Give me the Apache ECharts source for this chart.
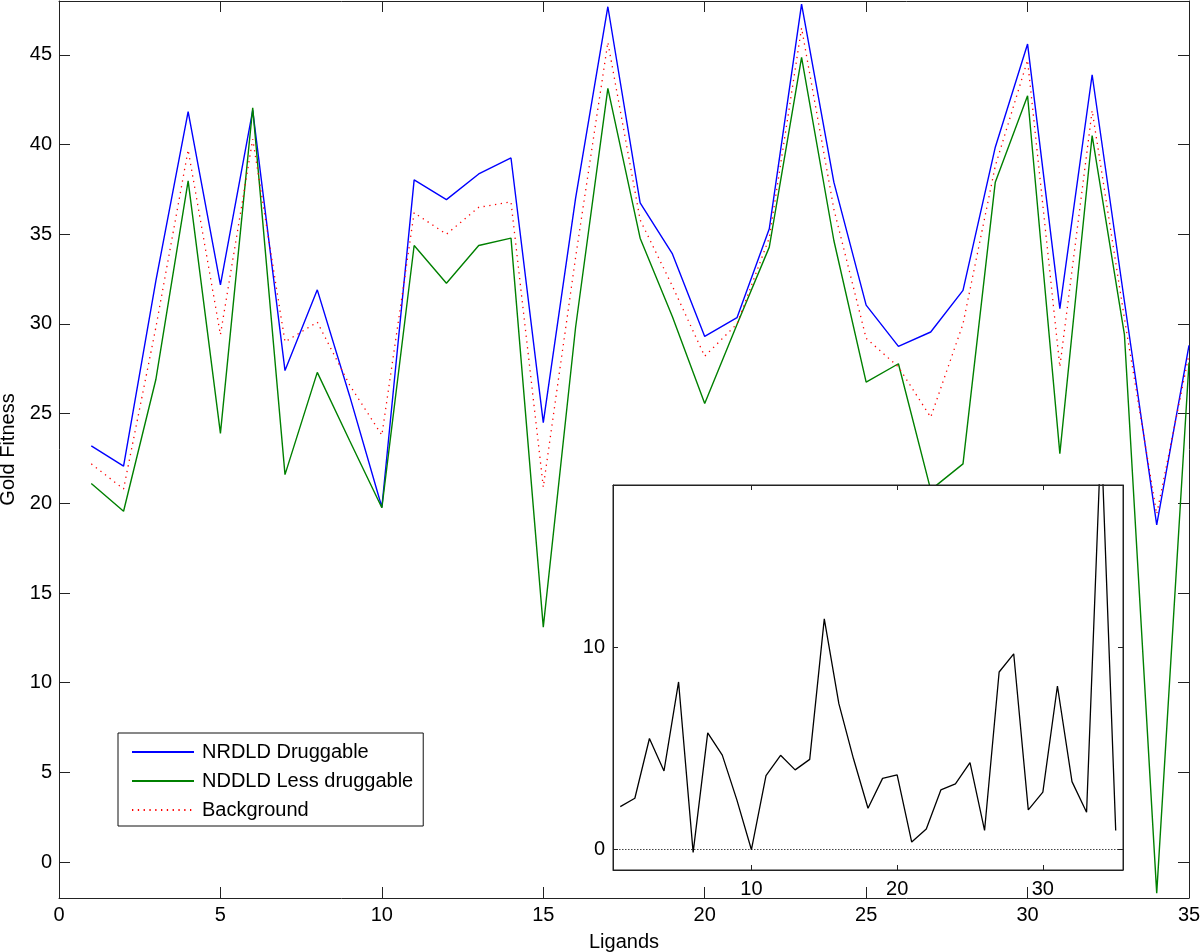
<!DOCTYPE html>
<html><head><meta charset="utf-8">
<script src="https://cdn.jsdelivr.net/npm/echarts@6/dist/echarts.min.js"></script>
<style>html,body{margin:0;padding:0;background:#fff}#c{width:1200px;height:952px}</style>
</head><body><div id="c"></div><script>
const ligands = [1,2,3,4,5,6,7,8,9,10,11,12,13,14,15,16,17,18,19,20,21,22,23,24,25,26,27,28,29,30,31,32,33,34,35];
const druggable = [23.2,22.07,32.4,41.83,32.18,41.9,27.4,31.9,26.0,19.78,38.03,36.93,38.36,39.25,24.5,37.0,47.68,36.75,33.9,29.3,30.35,35.3,47.83,37.9,31.05,28.75,29.55,31.87,39.85,45.6,30.85,43.89,31.25,18.8,28.8];
const lessDruggable = [21.1,19.56,26.9,37.97,23.9,42.04,21.6,27.3,23.5,19.75,34.37,32.27,34.37,34.78,13.1,29.8,43.13,34.78,30.4,25.56,29.97,34.28,44.86,34.65,26.76,27.78,20.75,22.2,37.9,42.72,22.77,40.5,29.4,-1.73,27.85];
const background = [22.2,20.8,29.8,39.7,29.4,40.3,29.0,30.1,26.6,23.8,36.2,35.0,36.5,36.8,20.9,33.7,45.7,35.8,32.1,28.2,30.0,34.8,46.5,36.4,29.2,27.6,24.8,30.0,38.8,44.7,27.6,41.9,30.3,19.4,28.3];
const difference = [2.13,2.54,5.49,3.89,8.28,-0.13,5.77,4.67,2.46,0.0,3.66,4.66,3.94,4.46,11.39,7.21,4.5,2.05,3.52,3.69,0.38,1.02,2.95,3.25,4.3,0.95,8.77,9.67,1.97,2.84,8.08,3.36,1.85,20.5,0.95];
const mainYTicks = [0,5,10,15,20,25,30,35,40,45];
const insetXTicks = [10,20,30];
const insetYTicks = [0,10];
const seriesNames = ['NRDLD Druggable','NDDLD Less druggable','Background'];

const FONT = 'Liberation Sans, Arial, Helvetica, sans-serif';
const pairs = arr => ligands.map((x,i)=>[x, arr[i]]);
const axisLine = {show:true, onZero:false, lineStyle:{color:'#222', width:1}};
const lbl = {color:'#000', fontSize:20, fontFamily:FONT};

const chart = echarts.init(document.getElementById('c'), null, {renderer:'canvas'});
chart.setOption({
  animation:false,
  backgroundColor:'#fff',
  textStyle:{fontFamily:FONT},
  grid:[
    {left:59, top:1, width:1130, height:897, show:false, containLabel:false, outerBoundsMode:'none'},
    {left:613, top:485, width:510, height:385, show:true, backgroundColor:'#fff', borderColor:'#222', borderWidth:1, z:5, containLabel:false, outerBoundsMode:'none'}
  ],
  legend:{
    orient:'vertical', left:118, top:733,
    data:seriesNames,
    backgroundColor:'#fff', borderColor:'#111', borderWidth:1,
    padding:[9,10,6,13], itemGap:9, itemWidth:62, itemHeight:19,
    itemStyle:{opacity:0},
    textStyle:{fontSize:20, color:'#000', fontFamily:FONT, padding:[0,0,0,3]},
    z:8
  },
  xAxis:[
    {gridIndex:0, type:'value', min:0, max:35, interval:5, position:'bottom',
     axisLine, axisTick:{inside:true, length:11, lineStyle:{color:'#222'}},
     axisLabel:{...lbl, margin:7}, splitLine:{show:false},
     name:'Ligands', nameLocation:'middle', nameGap:34, nameTextStyle:{...lbl}},
    {gridIndex:0, type:'value', min:0, max:35, interval:5, position:'top',
     axisLine, axisTick:{inside:true, length:11, lineStyle:{color:'#222'}},
     axisLabel:{show:false}, splitLine:{show:false}},
    {gridIndex:1, type:'value', min:0.5, max:35.5, position:'bottom', z:7,
     axisLine, axisTick:{inside:true, length:5, customValues:insetXTicks, lineStyle:{color:'#222'}},
     axisLabel:{...lbl, margin:9, customValues:insetXTicks}, splitLine:{show:false}},
    {gridIndex:1, type:'value', min:0.5, max:35.5, position:'top', z:7,
     axisLine, axisTick:{inside:true, length:5, customValues:insetXTicks, lineStyle:{color:'#222'}},
     axisLabel:{show:false, customValues:insetXTicks}, splitLine:{show:false}}
  ],
  yAxis:[
    {gridIndex:0, type:'value', min:-2, max:48, position:'left',
     axisLine, axisTick:{inside:true, length:11, customValues:mainYTicks, lineStyle:{color:'#222'}},
     axisLabel:{...lbl, margin:7, customValues:mainYTicks}, splitLine:{show:false},
     name:'Gold Fitness', nameLocation:'middle', nameGap:38, nameTextStyle:{...lbl}},
    {gridIndex:0, type:'value', min:-2, max:48, position:'right',
     axisLine, axisTick:{inside:true, length:11, customValues:mainYTicks, lineStyle:{color:'#222'}},
     axisLabel:{show:false, customValues:mainYTicks}, splitLine:{show:false}},
    {gridIndex:1, type:'value', min:-1, max:18, position:'left', z:7,
     axisLine, axisTick:{inside:true, length:5, customValues:insetYTicks, lineStyle:{color:'#222'}},
     axisLabel:{...lbl, margin:8, customValues:insetYTicks}, splitLine:{show:false}},
    {gridIndex:1, type:'value', min:-1, max:18, position:'right', z:7,
     axisLine, axisTick:{inside:true, length:5, customValues:insetYTicks, lineStyle:{color:'#222'}},
     axisLabel:{show:false, customValues:insetYTicks}, splitLine:{show:false}}
  ],
  series:[
    {name:seriesNames[0], type:'line', xAxisIndex:0, yAxisIndex:0, data:pairs(druggable),
     symbol:'none', lineStyle:{color:'#0000ff', width:1.4}, itemStyle:{color:'#0000ff'}, z:2},
    {name:seriesNames[1], type:'line', xAxisIndex:0, yAxisIndex:0, data:pairs(lessDruggable),
     symbol:'none', lineStyle:{color:'#008000', width:1.4}, itemStyle:{color:'#008000'}, z:2},
    {name:seriesNames[2], type:'line', xAxisIndex:0, yAxisIndex:0, data:pairs(background),
     symbol:'none', lineStyle:{color:'#ff0000', width:1.3, type:[1.3,4.5]}, itemStyle:{color:'#ff0000'}, z:2},
    {name:'Difference', type:'line', xAxisIndex:2, yAxisIndex:2, data:pairs(difference),
     symbol:'none', lineStyle:{color:'#000', width:1.3}, itemStyle:{color:'#000'}, z:6, clip:true,
     markLine:{silent:true, symbol:'none', label:{show:false},
       lineStyle:{color:'#444', width:1, type:[1.5,1.5]}, data:[{yAxis:0}]}}
  ]
});
</script></body></html>
